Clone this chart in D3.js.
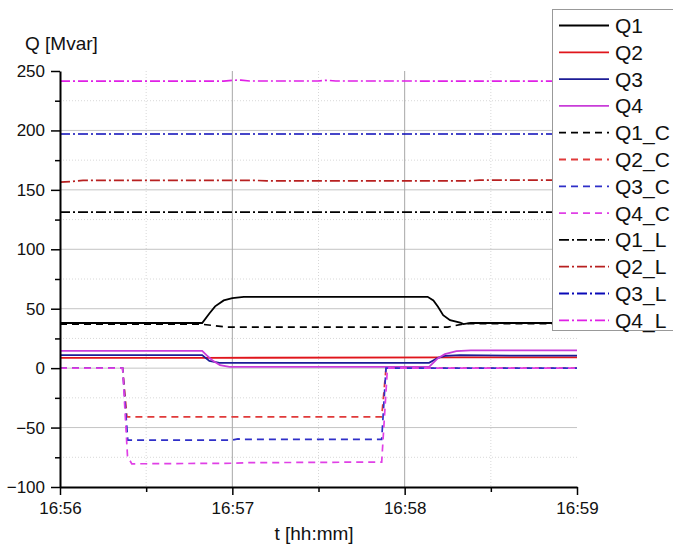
<!DOCTYPE html>
<html>
<head>
<meta charset="utf-8">
<script src="https://cdn.jsdelivr.net/npm/d3@7"></script>
<style>
  html, body { margin: 0; padding: 0; background: #fff; }
  svg { display: block; font-family: "Liberation Sans", Arial, sans-serif; }
</style>
</head>
<body>
<div id="chart"></div>
<script>
// time in seconds after 16:56:00, values in Mvar
const q1T = [0, 49.5, 52, 54, 57, 60, 64, 128, 130, 131.6, 133.4, 135.8, 139.3, 140.5, 143, 180];
const q1V = [38, 38, 46, 52, 57, 59, 60, 60, 57, 51.6, 44.6, 40.4, 38.4, 37, 38, 38];
const q2T = [0, 50, 140, 180];
const q2V = [8.7, 8.7, 9, 9];
const q3T = [0, 49.5, 52, 55.5, 60, 128.5, 131.6, 134, 139.3, 160, 180];
const q3V = [11, 11, 6, 4.5, 4.5, 4.5, 8.7, 10.3, 11, 10.5, 10.5];
const q4T = [0, 49.5, 51, 53, 55.7, 59, 128.5, 131.6, 134, 138, 143, 180];
const q4V = [14.6, 14.6, 11, 6.7, 2.5, 1, 1, 8.4, 11.8, 14.3, 15, 15];

const q1cT = [0, 49, 53, 58, 135, 141, 180];
const q1cV = [37, 37, 36, 34.5, 34.5, 37.5, 37.5];
const q2cT = [0, 21.8, 23.3, 112, 113.5, 180];
const q2cV = [0, 0, -41, -41, 0, 0];
const q3cT = [0, 21.8, 23.6, 60, 62, 64, 112, 113.5, 180];
const q3cV = [0, 0, -60.5, -60.5, -59.5, -60, -60, 0, 0];
const q4cT = [0, 21.8, 23.5, 25, 60, 65, 70, 112, 114, 180];
const q4cV = [0, 0, -74, -80.5, -80, -79.5, -79.5, -79, 0, 0];

const q1lT = [0, 180];
const q1lV = [131.3, 131.3];
const q2lT = [0, 4, 8, 68, 72, 142, 146, 180];
const q2lV = [156.5, 157, 158, 158, 157.5, 157.5, 158.2, 158.2];
const q3lT = [0, 180];
const q3lV = [197, 197];
const q4lT = [0, 57, 60, 63, 66, 90, 93, 96, 180];
const q4lV = [241.5, 241.5, 242.2, 242.3, 241.6, 241.6, 242.2, 241.6, 241.5];

const names = ['Q1', 'Q2', 'Q3', 'Q4', 'Q1_C', 'Q2_C', 'Q3_C', 'Q4_C', 'Q1_L', 'Q2_L', 'Q3_L', 'Q4_L'];
const yTicks = [-100, -50, 0, 50, 100, 150, 200, 250];
const yMinor = [-75, -25, 25, 75, 125, 175, 225];
const xTickLabels = ['16:56', '16:57', '16:58', '16:59'];
const xMinorLabels = ['16:56:30', '16:57:30', '16:58:30'];

const seriesT = [q1T, q2T, q3T, q4T, q1cT, q2cT, q3cT, q4cT, q1lT, q2lT, q3lT, q4lT];
const seriesV = [q1V, q2V, q3V, q4V, q1cV, q2cV, q3cV, q4cV, q1lV, q2lV, q3lV, q4lV];

const colors = ['#000000', '#e0151b', '#1c1c96', '#c83cd8',
                '#000000', '#e03a3a', '#2f2fc8', '#e040e6',
                '#000000', '#b82020', '#0a0ab8', '#e020e6'];
const dashes = [null, null, null, null,
                '7,5', '7,5', '7,5', '7,5',
                '10,3,2,3', '10,3,2,3', '10,3,2,3', '10,3,2,3'];

const w = 673;
const h = 548;
const plotLeft = 60, plotRight = 577, plotTop = 71, plotBottom = 487;

const parse = d3.timeParse('%H:%M:%S');
const t0 = parse('16:56:00');
const toDate = s => new Date(t0.getTime() + s * 1000);

const x = d3.scaleTime()
  .domain([parse('16:56:00'), parse('16:59:00')])
  .range([plotLeft, plotRight]);
const y = d3.scaleLinear()
  .domain([-100, 250])
  .range([plotBottom, plotTop]);

const svg = d3.select('#chart')
  .append('svg')
  .attr('width', w)
  .attr('height', h);

// grid
const majorX = xTickLabels.map(s => parse(s + ':00'));
const minorX = xMinorLabels.map(s => parse(s));

svg.append('g').selectAll('line')
  .data(yMinor)
  .enter().append('line')
  .attr('x1', plotLeft).attr('x2', plotRight)
  .attr('y1', d => y(d)).attr('y2', d => y(d))
  .attr('stroke', '#d8d8d8').attr('stroke-dasharray', '1,2');
svg.append('g').selectAll('line')
  .data(minorX)
  .enter().append('line')
  .attr('x1', d => x(d)).attr('x2', d => x(d))
  .attr('y1', plotTop).attr('y2', plotBottom)
  .attr('stroke', '#d8d8d8').attr('stroke-dasharray', '1,2');
svg.append('g').selectAll('line')
  .data(yTicks.filter(d => d > -100 && d < 250))
  .enter().append('line')
  .attr('x1', plotLeft).attr('x2', plotRight)
  .attr('y1', d => y(d)).attr('y2', d => y(d))
  .attr('stroke', '#c4c4c4');
svg.append('g').selectAll('line')
  .data(majorX.slice(1, 3))
  .enter().append('line')
  .attr('x1', d => x(d)).attr('x2', d => x(d))
  .attr('y1', plotTop).attr('y2', plotBottom)
  .attr('stroke', '#a8a8a8');

// series
const line = d3.line()
  .x(d => x(toDate(d[0])))
  .y(d => y(d[1]));

names.forEach((name, i) => {
  const pts = seriesT[i].map((t, j) => [t, seriesV[i][j]]);
  svg.append('path')
    .datum(pts)
    .attr('d', line)
    .attr('fill', 'none')
    .attr('stroke', colors[i])
    .attr('stroke-width', i < 4 ? 1.8 : 1.7)
    .attr('stroke-dasharray', dashes[i]);
});

// axes
svg.append('g')
  .attr('transform', 'translate(0,' + plotBottom + ')')
  .call(d3.axisBottom(x).tickValues(majorX).tickFormat(d3.timeFormat('%H:%M'))
    .tickSize(8).tickPadding(7).tickSizeOuter(0));
svg.append('g')
  .attr('transform', 'translate(0,' + plotBottom + ')')
  .call(d3.axisBottom(x).tickValues(minorX).tickFormat('').tickSize(5).tickSizeOuter(0))
  .select('.domain').remove();

svg.append('g')
  .attr('transform', 'translate(' + plotLeft + ',0)')
  .call(d3.axisLeft(y).tickValues(yTicks).tickSize(9).tickPadding(6).tickSizeOuter(0));
svg.append('g')
  .attr('transform', 'translate(' + plotLeft + ',0)')
  .call(d3.axisLeft(y).tickValues(yMinor).tickFormat('').tickSize(5).tickSizeOuter(0))
  .select('.domain').remove();

svg.selectAll('.domain').attr('stroke', '#000').attr('stroke-width', 2);
svg.selectAll('.tick line').attr('stroke', '#000').attr('stroke-width', 1.5);
svg.selectAll('.tick text')
  .attr('font-size', 17)
  .attr('font-family', '"Liberation Sans", Arial, sans-serif')
  .attr('fill', '#111');

// axis titles
svg.append('text')
  .attr('x', 25).attr('y', 50)
  .attr('font-size', 19)
  .attr('fill', '#111')
  .text('Q [Mvar]');
svg.append('text')
  .attr('x', 314).attr('y', 540)
  .attr('text-anchor', 'middle')
  .attr('font-size', 19)
  .attr('fill', '#111')
  .text('t [hh:mm]');

// legend
const legend = svg.append('g');
legend.append('rect')
  .attr('x', 552.5).attr('y', 9.5)
  .attr('width', 140).attr('height', 321)
  .attr('fill', '#fff')
  .attr('stroke', '#999');

const rows = legend.selectAll('g.row')
  .data(names)
  .enter().append('g')
  .attr('class', 'row')
  .attr('transform', (d, i) => 'translate(0,' + (25.5 + i * 26.8) + ')');
rows.append('line')
  .attr('x1', 559).attr('x2', 609)
  .attr('stroke', (d, i) => colors[i])
  .attr('stroke-width', 1.8)
  .attr('stroke-dasharray', (d, i) => dashes[i]);
rows.append('text')
  .attr('x', 615).attr('y', 7.5)
  .attr('font-size', 21)
  .attr('fill', '#111')
  .text(d => d);
</script>
</body>
</html>
